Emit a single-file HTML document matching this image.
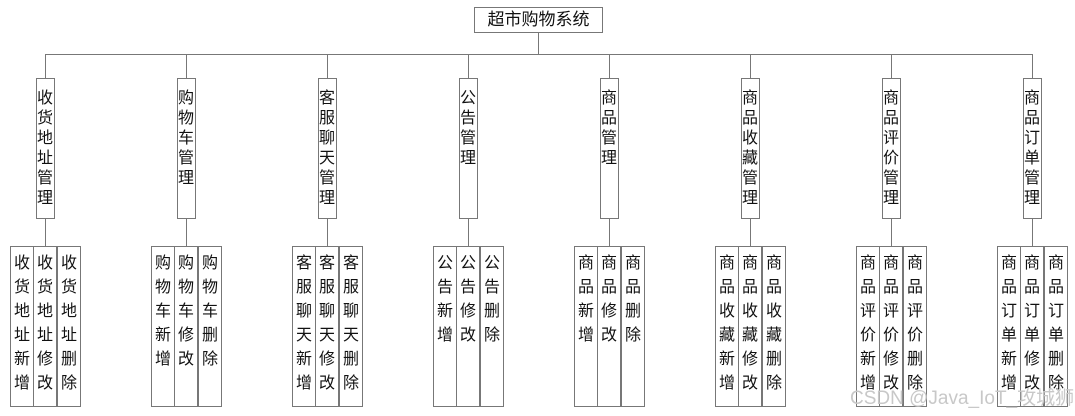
<!DOCTYPE html>
<html><head><meta charset="utf-8"><style>
html,body{margin:0;padding:0;background:#fff;width:1075px;height:416px;overflow:hidden;position:relative;}
div{position:absolute;box-sizing:border-box;}
.b{border:1.3px solid #777;background:#fff;}
.v{background:#777;width:1.3px;}
.t{font-family:"Liberation Sans","Noto Sans CJK SC",sans-serif;font-size:16px;color:#111;text-align:center;word-break:break-all;}
.m{width:19px;top:78px;height:141px;}
.m .t{left:0;width:100%;top:10px;line-height:20px;}
.s{top:246px;height:161px;width:24px;}
.s .t{left:0;width:100%;top:5px;line-height:24px;}
</style></head><body>
<div class="b" style="left:474px;top:7px;width:129px;height:26px;"><div class="t" style="left:0;width:100%;top:2px;font-size:17px;line-height:20px;">超市购物系统</div></div>
<div class="v" style="left:537.5px;top:33px;height:21px;"></div>
<div style="left:45px;top:53.5px;width:987px;height:1.3px;background:#777;"></div>

<div class="v" style="left:44.5px;top:54px;height:24px;"></div>
<div class="b m" style="left:35.5px;"><div class="t">收货地址管理</div></div>
<div class="v" style="left:44.5px;top:219px;height:27px;"></div>
<div class="b s" style="left:10px;"><div class="t">收货地址新增</div></div>
<div class="b s" style="left:33px;"><div class="t">收货地址修改</div></div>
<div class="b s" style="left:57px;"><div class="t">收货地址删除</div></div>

<div class="v" style="left:185.5px;top:54px;height:24px;"></div>
<div class="b m" style="left:176.5px;"><div class="t">购物车管理</div></div>
<div class="v" style="left:185.5px;top:219px;height:27px;"></div>
<div class="b s" style="left:151px;"><div class="t">购物车新增</div></div>
<div class="b s" style="left:174px;"><div class="t">购物车修改</div></div>
<div class="b s" style="left:198px;"><div class="t">购物车删除</div></div>

<div class="v" style="left:326.5px;top:54px;height:24px;"></div>
<div class="b m" style="left:317.5px;"><div class="t">客服聊天管理</div></div>
<div class="v" style="left:326.5px;top:219px;height:27px;"></div>
<div class="b s" style="left:292px;"><div class="t">客服聊天新增</div></div>
<div class="b s" style="left:315px;"><div class="t">客服聊天修改</div></div>
<div class="b s" style="left:339px;"><div class="t">客服聊天删除</div></div>

<div class="v" style="left:467.5px;top:54px;height:24px;"></div>
<div class="b m" style="left:458.5px;"><div class="t">公告管理</div></div>
<div class="v" style="left:467.5px;top:219px;height:27px;"></div>
<div class="b s" style="left:433px;"><div class="t">公告新增</div></div>
<div class="b s" style="left:456px;"><div class="t">公告修改</div></div>
<div class="b s" style="left:480px;"><div class="t">公告删除</div></div>

<div class="v" style="left:608.5px;top:54px;height:24px;"></div>
<div class="b m" style="left:599.5px;"><div class="t">商品管理</div></div>
<div class="v" style="left:608.5px;top:219px;height:27px;"></div>
<div class="b s" style="left:574px;"><div class="t">商品新增</div></div>
<div class="b s" style="left:597px;"><div class="t">商品修改</div></div>
<div class="b s" style="left:621px;"><div class="t">商品删除</div></div>

<div class="v" style="left:749.5px;top:54px;height:24px;"></div>
<div class="b m" style="left:740.5px;"><div class="t">商品收藏管理</div></div>
<div class="v" style="left:749.5px;top:219px;height:27px;"></div>
<div class="b s" style="left:715px;"><div class="t">商品收藏新增</div></div>
<div class="b s" style="left:738px;"><div class="t">商品收藏修改</div></div>
<div class="b s" style="left:762px;"><div class="t">商品收藏删除</div></div>

<div class="v" style="left:890.5px;top:54px;height:24px;"></div>
<div class="b m" style="left:881.5px;"><div class="t">商品评价管理</div></div>
<div class="v" style="left:890.5px;top:219px;height:27px;"></div>
<div class="b s" style="left:856px;"><div class="t">商品评价新增</div></div>
<div class="b s" style="left:879px;"><div class="t">商品评价修改</div></div>
<div class="b s" style="left:903px;"><div class="t">商品评价删除</div></div>

<div class="v" style="left:1031.5px;top:54px;height:24px;"></div>
<div class="b m" style="left:1022.5px;"><div class="t">商品订单管理</div></div>
<div class="v" style="left:1031.5px;top:219px;height:27px;"></div>
<div class="b s" style="left:997px;"><div class="t">商品订单新增</div></div>
<div class="b s" style="left:1020px;"><div class="t">商品订单修改</div></div>
<div class="b s" style="left:1044px;"><div class="t">商品订单删除</div></div>

<div class="t" style="left:850px;top:388px;width:225px;font-size:19px;line-height:22px;color:#c8c8c8;white-space:nowrap;text-align:left;word-break:normal;">CSDN @Java_IoT_攻城狮</div>
</body></html>
